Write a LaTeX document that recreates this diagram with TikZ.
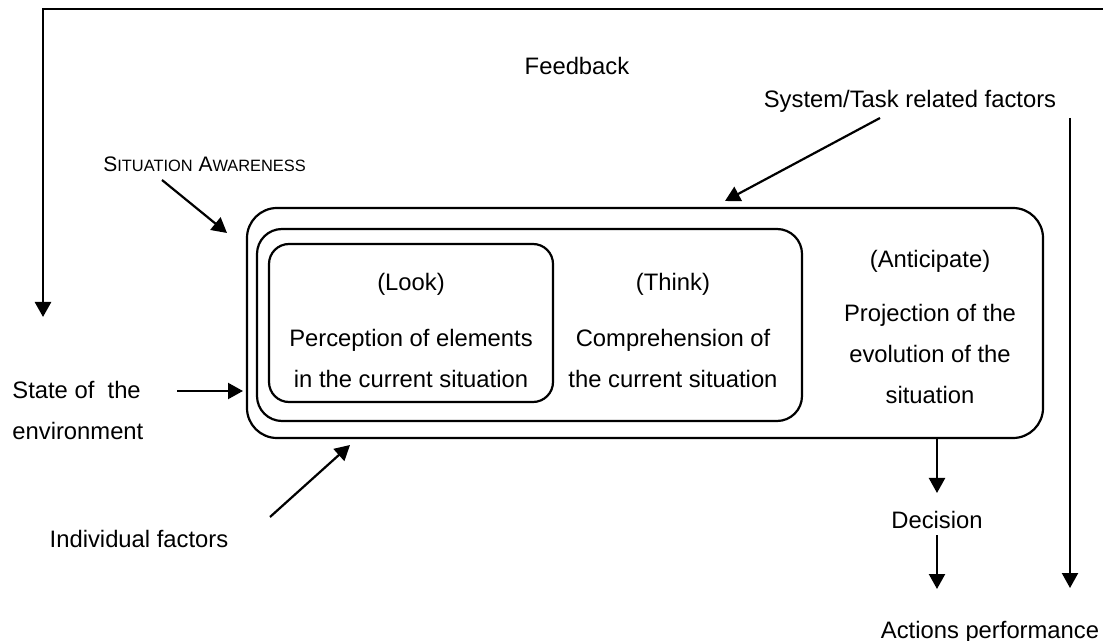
\documentclass[tikz,border=0pt]{standalone}
\usepackage{fontspec}
\setmainfont{Liberation Sans}
\usetikzlibrary{arrows.meta}

\begin{document}
\begin{tikzpicture}[x=0.5pt, y=-0.5pt,
    every node/.style={font=\fontsize{11.9}{20.6}\selectfont, inner sep=0pt, anchor=base, align=center},
    box/.style={draw, line width=1.1pt, anchor=center},
    >={Triangle[width=8pt, length=7.5pt]}]
            \useasboundingbox (0,0) rectangle (1103,641);

            \node[box, rounded corners=15pt, minimum width=398pt, minimum height=115pt] (outer) at (645,323) {};
            \node[box, rounded corners=12.5pt, minimum width=272.5pt, minimum height=96pt] (middle) at (529.5,325) {};
            \node[box, rounded corners=10pt, minimum width=142pt, minimum height=79pt] (inner) at (411,323) {};

            % multi-line texts sit on the baseline of their last line
            \node (look) at (411,291) {(Look)};
            \node (perception) at (411,388) {Perception of elements\\in the current situation};
            \node (think) at (673,291) {(Think)};
            \node (comprehension) at (673,388) {Comprehension of\\the current situation};
            \node (anticipate) at (930,268) {(Anticipate)};
            \node (projection) at (930,404) {Projection of the\\evolution of the\\situation};

            \node (feedback) at (577,75) {Feedback};
            \node (system) at (910,108) {System/Task related factors};
            \node[anchor=base west, font=\fontsize{10.5}{12}\selectfont] (sa) at (103,172)
                {S{\fontsize{8.2}{10}\selectfont ITUATION} A{\fontsize{8.2}{10}\selectfont WARENESS}};
            \node[anchor=base west, align=left] (state) at (12,440) {State of~~the\\environment};
            \node (individual) at (139,547) {Individual factors};
            \node (decision) at (937,528) {Decision};
            \node (actions) at (990,638) {Actions performance};

            \coordinate (fbstart) at (1103,9);
            \coordinate (fbend) at (43,317);
            \coordinate (satail) at (162,180);
            \coordinate (sahead) at (227,233);
            \coordinate (systail) at (880,118);
            \coordinate (syshead) at (725,201);
            \coordinate (statetail) at (177,391);
            \coordinate (statehead) at (243,391);
            \coordinate (indtail) at (270,517);
            \coordinate (indhead) at (350,445);
            \coordinate (dectail) at (937,438);
            \coordinate (dechead) at (937,493);
            \coordinate (acttail) at (937,535);
            \coordinate (acthead) at (937,589);
            \coordinate (righttail) at (1070,118);
            \coordinate (righthead) at (1070,588);

            \draw[->, line width=1.3pt] (fbstart) -| (fbend);
            \draw[->, line width=1.1pt] (satail) -- (sahead);
            \draw[->, line width=1.1pt] (systail) -- (syshead);
            \draw[->, line width=1.1pt] (statetail) -- (statehead);
            \draw[->, line width=1.1pt] (indtail) -- (indhead);
            \draw[->, line width=1.1pt] (dectail) -- (dechead);
            \draw[->, line width=1.1pt] (acttail) -- (acthead);
            \draw[->, line width=1.1pt] (righttail) -- (righthead);
        \end{tikzpicture}
\end{document}
